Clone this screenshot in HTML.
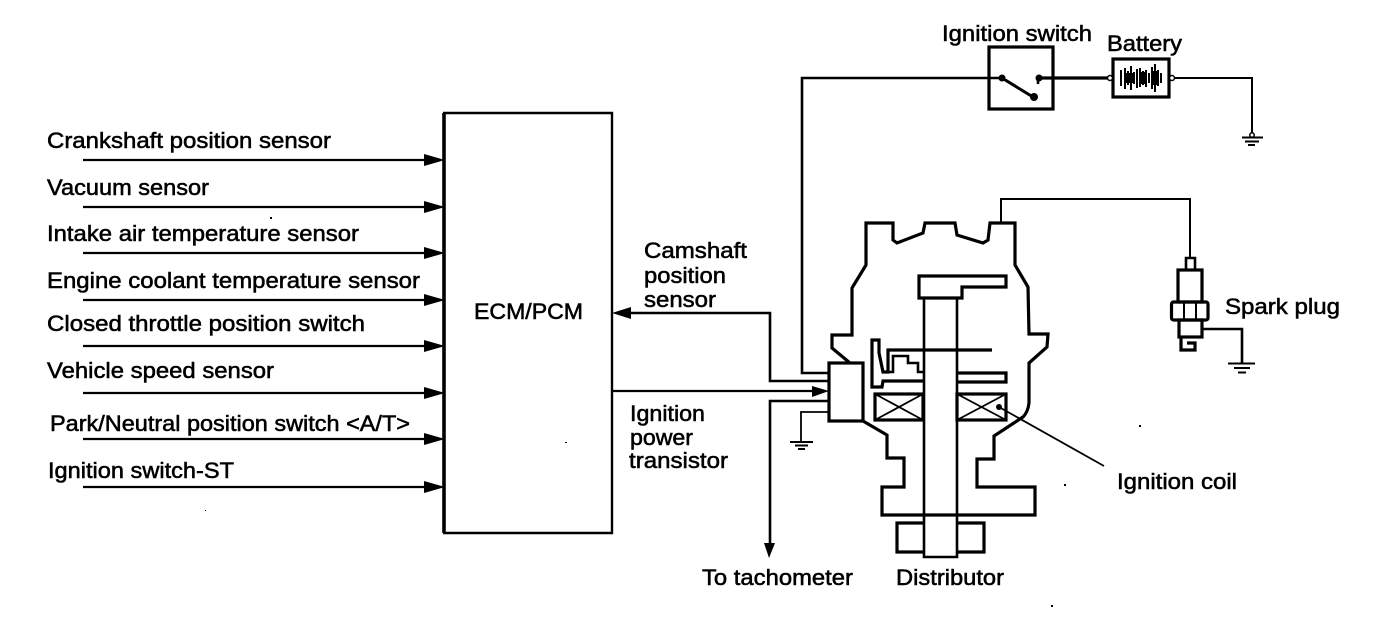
<!DOCTYPE html>
<html><head><meta charset="utf-8"><style>
html,body{margin:0;padding:0;background:#fff;width:1392px;height:628px;overflow:hidden}
svg{display:block}
text{font-family:"Liberation Sans",sans-serif;font-size:22px;fill:#000;stroke:#000;stroke-width:.55px}
.l{fill:none;stroke:#000;stroke-width:2.6;stroke-linejoin:miter}
.t{fill:none;stroke:#000;stroke-width:1.8}
.h{fill:none;stroke:#000;stroke-width:3.2}
.a{fill:#000;stroke:none}
</style></head><body>
<svg width="1392" height="628" viewBox="0 0 1392 628" xmlns="http://www.w3.org/2000/svg">
<rect width="1392" height="628" fill="#fff"/>
<!-- ECM -->
<path class="h" d="M444 113V533" style="stroke-width:3.600"/>
<path class="t" d="M443 113H612V533H443" style="stroke-width:2.400"/>
<!-- Inputs -->
<path class="t" style="stroke-width:2.200" d="M83 160H428M83 207H428M83 253H428M83 300H428M83 346H428M83 393H428M83 439H428M83 487H428"/>
<path class="a" d="M424 154L445 160L424 166ZM424 201L445 207L424 213ZM424 247L445 253L424 259ZM424 294L445 300L424 306ZM424 340L445 346L424 352ZM424 387L445 393L424 399ZM424 433L445 439L424 445ZM424 481L445 487L424 493Z"/>
<!-- Labels left -->
<text x="47" y="148" textLength="284" lengthAdjust="spacingAndGlyphs">Crankshaft position sensor</text>
<text x="47" y="195" textLength="162" lengthAdjust="spacingAndGlyphs">Vacuum sensor</text>
<text x="47" y="241" textLength="312" lengthAdjust="spacingAndGlyphs">Intake air temperature sensor</text>
<text x="47" y="288" textLength="373" lengthAdjust="spacingAndGlyphs">Engine coolant temperature sensor</text>
<text x="47" y="331" textLength="318" lengthAdjust="spacingAndGlyphs">Closed throttle position switch</text>
<text x="47" y="378" textLength="227" lengthAdjust="spacingAndGlyphs">Vehicle speed sensor</text>
<text x="50" y="431" textLength="360" lengthAdjust="spacingAndGlyphs">Park/Neutral position switch &lt;A/T&gt;</text>
<text x="48" y="478" textLength="186" lengthAdjust="spacingAndGlyphs">Ignition switch-ST</text>
<text x="474" y="319" textLength="109" lengthAdjust="spacingAndGlyphs">ECM/PCM</text>
<text x="644" y="258" textLength="103" lengthAdjust="spacingAndGlyphs">Camshaft</text>
<text x="644" y="283" textLength="82" lengthAdjust="spacingAndGlyphs">position</text>
<text x="644" y="307" textLength="72" lengthAdjust="spacingAndGlyphs">sensor</text>
<text x="630" y="421" textLength="75" lengthAdjust="spacingAndGlyphs">Ignition</text>
<text x="630" y="445" textLength="63" lengthAdjust="spacingAndGlyphs">power</text>
<text x="629" y="468" textLength="99" lengthAdjust="spacingAndGlyphs">transistor</text>
<text x="942" y="41" textLength="150" lengthAdjust="spacingAndGlyphs">Ignition switch</text>
<text x="1107" y="51" textLength="75" lengthAdjust="spacingAndGlyphs">Battery</text>
<text x="1225" y="314" textLength="115" lengthAdjust="spacingAndGlyphs">Spark plug</text>
<text x="1117" y="489" textLength="120" lengthAdjust="spacingAndGlyphs">Ignition coil</text>
<text x="702" y="585" textLength="151" lengthAdjust="spacingAndGlyphs">To tachometer</text>
<text x="896" y="585" textLength="108" lengthAdjust="spacingAndGlyphs">Distributor</text>
<!-- Wires centre -->
<path class="l" d="M625 313H770V381H829"/>
<path class="a" d="M612 313L631 307V319Z"/>
<path class="t" d="M612 391H815" style="stroke-width:2.200"/>
<path class="a" d="M812 386L829 391L812 397Z"/>
<path class="l" d="M829 401H770V545"/>
<path class="a" d="M764 543H775L769 558Z"/>
<path class="t" d="M829 412H801V441"/>
<path class="t" d="M790 442H813" style="stroke-width:2"/><path class="t" d="M795 445.500H808" style="stroke-width:2"/><path class="t" d="M798 449H805" style="stroke-width:2"/>
<!-- Ignition feed -->
<path class="l" d="M829 373H802V78H1002"/>
<!-- Ignition switch -->
<rect class="h" x="989" y="47" width="64" height="62"/>
<path class="l" d="M1002 78L1033 97" style="stroke-width:3"/>
<path class="h" d="M1038 78H1108"/>
<path class="l" d="M1038 78V84"/>
<circle class="a" cx="1002" cy="78" r="3.500"/><circle class="a" cx="1034" cy="97" r="4"/><circle class="a" cx="1039" cy="78" r="3.500"/>
<!-- Battery -->
<rect class="h" x="1113" y="59" width="56" height="38"/>
<circle cx="1110" cy="78" r="2.500" fill="#fff" stroke="#000" stroke-width="1.500"/>
<circle cx="1172" cy="78" r="2.500" fill="#fff" stroke="#000" stroke-width="1.500"/>
<path class="t" d="M1121 70V86M1125 68V89M1128 71V85M1131 66V90M1134 72V84M1137 69V88M1140 68V87M1143 71V85M1146 70V87M1149 73V83M1152 67V89M1155 64V92M1158 70V86M1161 73V83" style="stroke-width:2"/>
<path class="a" d="M1126 73H1134V83H1126ZM1140 72H1146V84H1140ZM1152 71H1157V85H1152Z"/>
<path class="t" d="M1175 78H1252V133" style="stroke-width:2"/>
<circle cx="1252" cy="135" r="2.200" fill="#fff" stroke="#000" stroke-width="1.500"/>
<path class="t" d="M1242 137.500H1263M1245 141.500H1259M1248 145H1255" style="stroke-width:2"/>
<!-- Spark wire -->
<path class="t" d="M1001 223V199H1190V258" style="stroke-width:2"/>
<!-- Spark plug -->
<path class="l" d="M1186 269V258H1195V269"/>
<rect class="h" x="1178" y="270" width="24" height="32"/>
<rect class="h" x="1171.500" y="302" width="36.500" height="18" rx="2"/>
<path class="t" d="M1184 302V320M1196 302V320" style="stroke-width:2"/>
<rect class="h" x="1179" y="320" width="23" height="17"/>
<path class="h" d="M1181 338V350H1195V343H1187"/>
<path class="l" d="M1202 329H1242V363"/>
<path class="t" d="M1228 363.500H1255M1234 368H1250M1238 372.500H1246" style="stroke-width:2"/>
<!-- Distributor outline -->
<path class="h" d="M850 363L832 348V335H852V288L866 265V223H893V240L897 243L923 233L925 223H955L957 235L983 243L988 240L990 223H1015V265L1028 287L1029 334H1048L1047 347L1029 363V403Q1028 412 1023 417L994 436V459H977V487H1035V515H882V487H904V458H887V435L863 421"/>
<rect class="h" x="829" y="363" width="34" height="58"/>
<!-- Shaft -->
<path class="h" d="M919 276H1006V287H962V298H919Z"/>
<path class="l" d="M924 298V557H957V298"/>
<path class="h" d="M924 523H897V552H924M957 523H984V552H957"/>
<!-- Coil -->
<rect class="h" x="875" y="394" width="48" height="26"/>
<rect class="h" x="957" y="394" width="49" height="26"/>
<path class="t" d="M875 394L923 420M875 420L923 394M957 394L1006 420M957 420L1006 394"/>
<!-- Rotor -->
<path class="h" d="M924 381H883L882 387H872V340H879V353L883 372H888V350H992"/>
<path class="l" d="M888 372H893V356H908V363H918V372H924"/>
<path class="h" d="M957 373H1006V382H957"/>
<!-- Leader -->
<circle class="a" cx="999" cy="407" r="3"/>
<path class="t" d="M999 407L1104 466"/>
<!-- Specks -->
<path class="a" d="M270 217h2v2h-2zM1139 425h2v2h-2zM1064 484h2v2h-2zM1051 605h2v2h-2zM205 510h1v1h-1zM565 442h2v1h-2z"/>
</svg>
</body></html>
